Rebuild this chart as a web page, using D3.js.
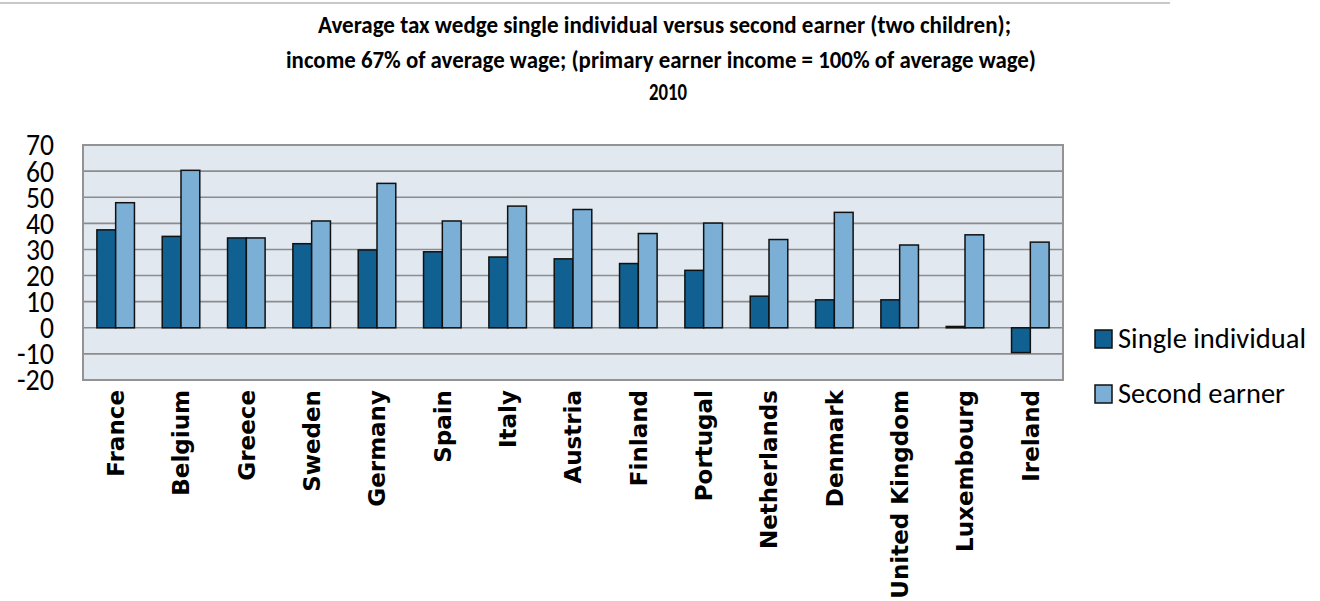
<!DOCTYPE html>
<html>
<head>
<meta charset="utf-8">
<script src="https://cdn.jsdelivr.net/npm/d3@7"></script>
<style>
  html, body { margin: 0; padding: 0; background: #fff; }
  svg { display: block; }
</style>
</head>
<body>
<svg id="chart" width="1320" height="601"></svg>
<script>
// Countries, in display order
const countries = ["France", "Belgium", "Greece", "Sweden", "Germany", "Spain", "Italy",
  "Austria", "Finland", "Portugal", "Netherlands", "Denmark", "United Kingdom",
  "Luxembourg", "Ireland"];

// Average tax wedge (%), single individual at 67% of average wage
const singleIndividual = [37.5, 35.0, 34.4, 32.2, 29.8, 29.1, 27.1, 26.4, 24.6, 22.0,
  12.1, 10.7, 10.7, 0.5, -9.5];

// Average tax wedge (%), second earner at 67% of average wage
const secondEarner = [47.9, 60.3, 34.4, 40.9, 55.3, 40.9, 46.6, 45.3, 36.1, 40.1,
  33.8, 44.2, 31.7, 35.6, 32.8];

const seriesNames = ["Single individual", "Second earner"];
const yTicks = [70, 60, 50, 40, 30, 20, 10, 0, -10, -20];

const titleLines = [
  "Average tax wedge single individual versus second earner (two children);",
  "income 67% of average wage; (primary earner income = 100% of average wage)",
  "2010"
];

const colors = { "Single individual": "#106091", "Second earner": "#7bafd5" };

const svg = d3.select("#chart");
const plot = { left: 83, top: 145, right: 1063, bottom: 380 };
const narrowFont = "Carlito, 'Liberation Sans Narrow', 'Liberation Sans', sans-serif";

// rule across the top of the figure
svg.append("line")
  .attr("x1", 0).attr("x2", 1170).attr("y1", 3).attr("y2", 3)
  .attr("stroke", "#c8c8c8").attr("stroke-width", 2);

// title, condensed to its set line widths
const titleLayout = [
  { y: 33, x1: 318, x2: 1011 },
  { y: 68, x1: 286, x2: 1036 },
  { y: 100, x1: 649, x2: 687 }
];
svg.append("g").selectAll("text")
  .data(titleLines)
  .join("text")
  .attr("x", (d, i) => titleLayout[i].x1)
  .attr("y", (d, i) => titleLayout[i].y)
  .attr("textLength", (d, i) => titleLayout[i].x2 - titleLayout[i].x1)
  .attr("lengthAdjust", "spacingAndGlyphs")
  .attr("font-family", narrowFont)
  .attr("font-weight", "bold")
  .attr("font-size", 24)
  .attr("fill", "#000")
  .text(d => d);

const y = d3.scaleLinear().domain([-20, 70]).range([plot.bottom, plot.top]);
const x = d3.scaleBand().domain(countries)
  .range([plot.left, plot.right])
  .paddingInner(0.425).paddingOuter(0.2125);
const xs = d3.scaleBand().domain(seriesNames).range([0, x.bandwidth()]);

// plot background
svg.append("rect")
  .attr("x", plot.left).attr("y", plot.top)
  .attr("width", plot.right - plot.left).attr("height", plot.bottom - plot.top)
  .attr("fill", "#e1e8f0");

// horizontal gridlines
svg.append("g").selectAll("line")
  .data(yTicks.filter(t => t > -20 && t < 70))
  .join("line")
  .attr("x1", plot.left).attr("x2", plot.right)
  .attr("y1", d => y(d)).attr("y2", d => y(d))
  .attr("stroke", "#8c8c8c").attr("stroke-width", 1.6);

// plot border
svg.append("rect")
  .attr("x", plot.left).attr("y", plot.top)
  .attr("width", plot.right - plot.left).attr("height", plot.bottom - plot.top)
  .attr("fill", "none").attr("stroke", "#939393").attr("stroke-width", 2);

// bars
const rows = countries.map((c, i) => ({
  country: c,
  values: [
    { series: "Single individual", value: singleIndividual[i] },
    { series: "Second earner", value: secondEarner[i] }
  ]
}));

svg.append("g").selectAll("g")
  .data(rows)
  .join("g")
  .attr("transform", d => `translate(${x(d.country)},0)`)
  .selectAll("rect")
  .data(d => d.values)
  .join("rect")
  .attr("x", d => xs(d.series))
  .attr("width", xs.bandwidth())
  .attr("y", d => y(Math.max(0, d.value)))
  .attr("height", d => Math.abs(y(d.value) - y(0)))
  .attr("fill", d => colors[d.series])
  .attr("stroke", "#111")
  .attr("stroke-width", 1.5);

// y axis labels, tall and narrow
const yAxis = d3.axisLeft(y).tickValues(yTicks).tickSize(0).tickPadding(0)
  .tickFormat(d => String(d));
const yg = svg.append("g").attr("transform", "translate(54,0)").call(yAxis);
yg.select(".domain").remove();
yg.selectAll("text")
  .attr("font-family", narrowFont)
  .attr("font-size", 31)
  .attr("fill", "#000")
  .attr("dy", "0.32em")
  .attr("lengthAdjust", "spacingAndGlyphs")
  .attr("textLength", d => String(Math.abs(d)).length * 14 + (d < 0 ? 9 : 0));

// x axis labels, rotated
const xAxis = d3.axisBottom(x).tickSize(0).tickPadding(0);
const xg = svg.append("g").attr("transform", `translate(0,${plot.bottom})`).call(xAxis);
xg.select(".domain").remove();
xg.selectAll("text")
  .attr("font-family", "'DejaVu Sans', Verdana, sans-serif")
  .attr("font-weight", "bold")
  .attr("font-size", 23)
  .attr("fill", "#000")
  .attr("transform", "rotate(-90)")
  .attr("text-anchor", "end")
  .attr("x", -10)
  .attr("y", 0)
  .attr("dy", "0.36em");

// legend
const legendWidths = { "Single individual": 188, "Second earner": 167 };
const legend = svg.append("g").selectAll("g")
  .data(seriesNames)
  .join("g")
  .attr("transform", (d, i) => `translate(1095,${339 + i * 55})`);
legend.append("rect")
  .attr("x", 0).attr("y", -9)
  .attr("width", 17).attr("height", 18)
  .attr("fill", d => colors[d])
  .attr("stroke", "#111").attr("stroke-width", 1.5);
legend.append("text")
  .attr("x", 23).attr("y", 0).attr("dy", "0.33em")
  .attr("font-family", narrowFont)
  .attr("font-size", 28)
  .attr("lengthAdjust", "spacingAndGlyphs")
  .attr("textLength", d => legendWidths[d])
  .attr("fill", "#000")
  .text(d => d);
</script>
</body>
</html>
